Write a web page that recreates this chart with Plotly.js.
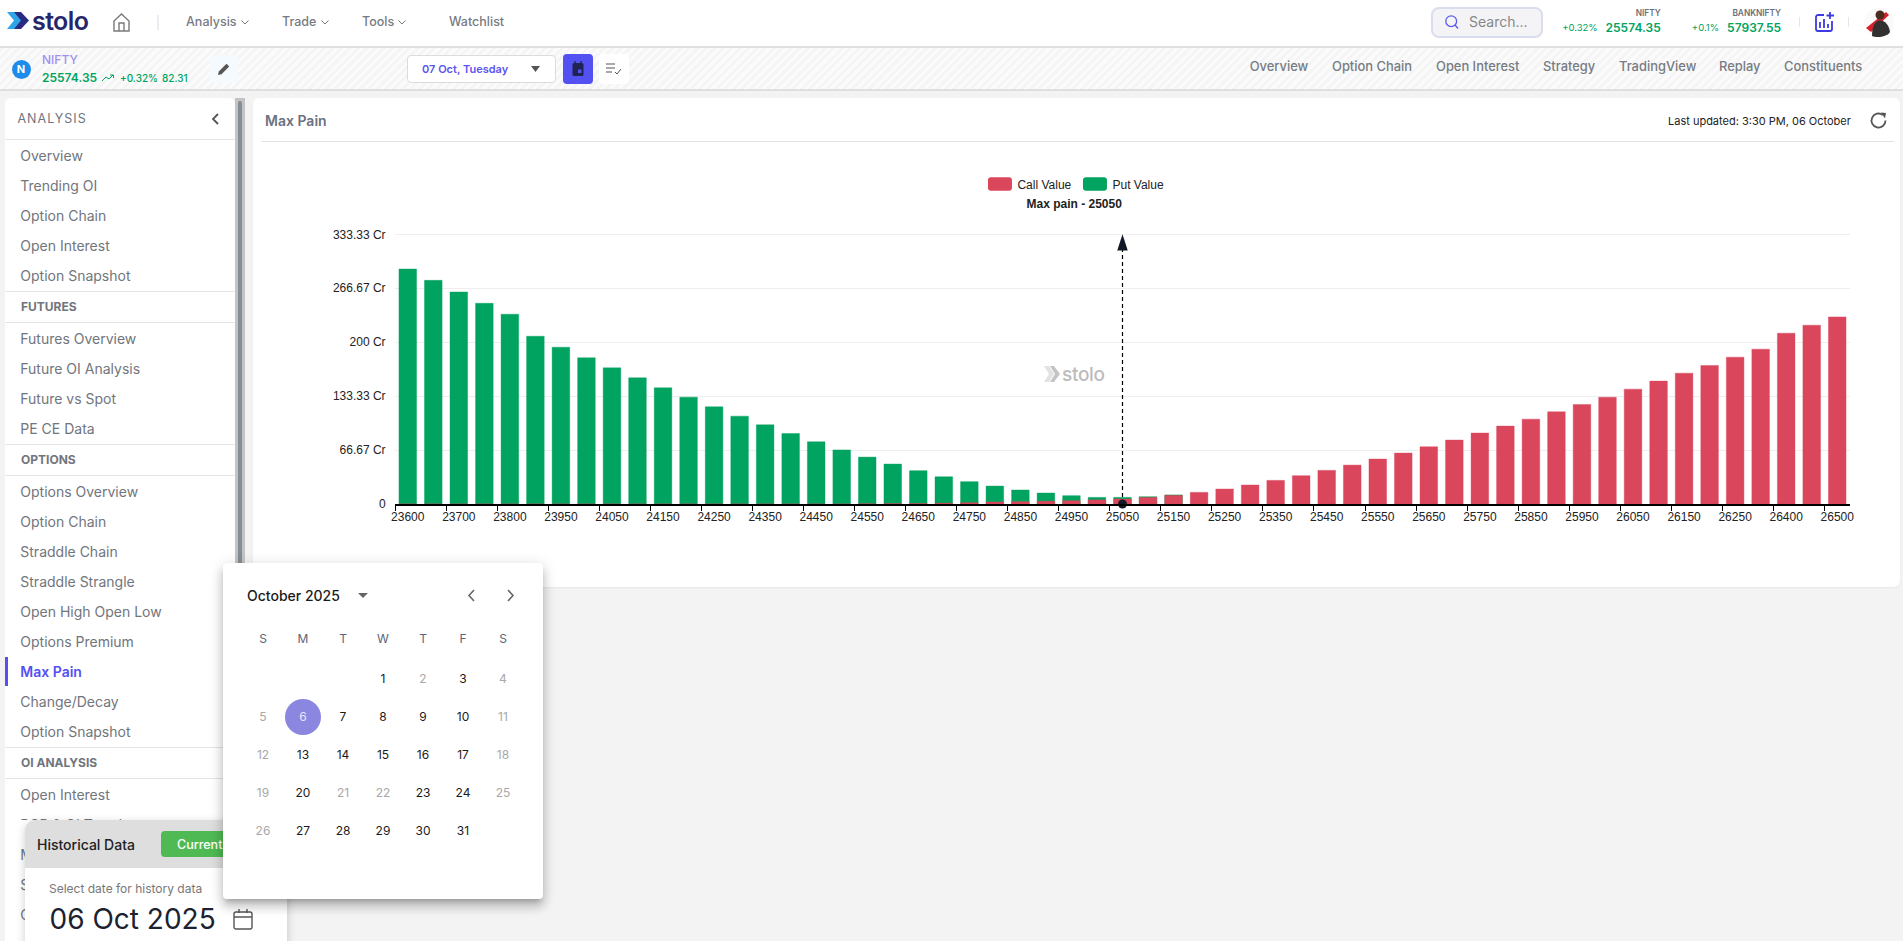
<!DOCTYPE html>
<html><head><meta charset="utf-8"><title>Max Pain</title>
<script src="https://cdn.plot.ly/plotly-3.0.1.min.js"></script>
<style>
html,body{margin:0;padding:0;width:1903px;height:941px;overflow:hidden;background:#f3f3f3;font-family:Inter,"Noto Sans",sans-serif}
.b{position:absolute;box-sizing:border-box}
.t{position:absolute;white-space:nowrap;transform:translateY(-50%);line-height:1}
.r{transform:translate(-100%,-50%)}.c{transform:translate(-50%,-50%)}
svg{position:absolute;overflow:visible}
#plot{position:absolute;left:260px;top:145px;width:1620px;height:420px}
</style></head><body><div id="ui"></div><div id="plot"></div><div id="over"></div>
<script>
// ---- chart data ----
const strikes=[23600,23650,23700,23750,23800,23900,23950,24000,24050,24100,24150,24200,24250,24300,24350,24400,24450,24500,24550,24600,24650,24700,24750,24800,24850,24900,24950,25000,25050,25100,25150,25200,25250,25300,25350,25400,25450,25500,25550,25600,25650,25700,25750,25800,25850,25900,25950,26000,26050,26100,26150,26200,26250,26300,26400,26450,26500];
const putValue=[290.5,276.5,262.1,248.1,234.6,207.4,193.8,180.7,168.3,156,143.6,132.1,120.2,108.6,97.9,87.2,77,66.9,58,49.4,41.2,33.7,27.6,22.2,17.3,13.6,10.3,8.2,8.2,9,11.2,0,0,0,0,0,0,0,0,0,0,0,0,0,0,0,0,0,0,0,0,0,0,0,0,0,0];
const callValue=[0,0,0,0,0,0,0,0,0,0,0,0,0,0,0,0,0,0,0.3,0.4,0.6,1,1.6,2.5,2.9,3.5,4.1,5.1,6.2,8.2,10.7,14.4,18.5,23.5,29.2,35,41.6,48.1,55.6,63,70.8,79,87.7,96.3,104.9,114,123,132,142,151.9,161.7,171.2,181.5,191.4,211.1,221,231.3];
const yTickVals=[0,66.67,133.33,200,266.67,333.33];
const yTickText=['0','66.67 Cr','133.33 Cr','200 Cr','266.67 Cr','333.33 Cr'];
const maxPainStrike=25050;
const maxPainArrow=[0,333.33];
const CHART_FONT='"Liberation Sans",Arial,sans-serif';

Plotly.newPlot('plot',[
 {type:'bar',name:'Put Value',x:strikes.map(String),y:putValue,marker:{color:'#00A35F',line:{color:'rgba(0,163,95,0.4)',width:1}},hoverinfo:'x+y'},
 {type:'bar',name:'Call Value',x:strikes.map(String),y:callValue,marker:{color:'#DA475C',line:{color:'rgba(218,71,92,0.4)',width:1}},hoverinfo:'x+y'},
 {type:'scatter',mode:'lines+markers',showlegend:false,cliponaxis:false,hoverinfo:'skip',x:[String(maxPainStrike),String(maxPainStrike)],y:maxPainArrow,
  line:{color:'#000',width:1.2,dash:'4px,3px'},marker:{color:'#111827',opacity:1,symbol:['circle','arrow'],size:[9,17],line:{width:0}}}
],{
 width:1620,height:420,margin:{l:134.5,r:30,t:87.95,b:60.7},
 paper_bgcolor:'rgba(0,0,0,0)',plot_bgcolor:'rgba(0,0,0,0)',
 font:{family:CHART_FONT,size:12,color:'#222'},
 barmode:'overlay',bargap:0.31,
 title:{text:'<b>Max pain - '+maxPainStrike+'</b>',font:{family:CHART_FONT,size:12,color:'#222'},xref:'paper',x:0.4668,xanchor:'center',yref:'container',y:0.8602,yanchor:'middle',pad:{t:0,b:0,l:0,r:0}},
 legend:{orientation:'h',traceorder:'reversed',xref:'paper',yref:'paper',x:0.4656,xanchor:'center',y:1.181,yanchor:'middle',entrywidth:50,entrywidthmode:'pixels',font:{family:CHART_FONT,size:12,color:'#222'},bgcolor:'rgba(0,0,0,0)'},
 xaxis:{type:'category',categoryorder:'array',categoryarray:strikes.map(String),tickmode:'linear',tick0:0,dtick:2,tickson:'boundaries',ticks:'outside',ticklen:5,tickwidth:1,tickcolor:'#000',ticklabelstandoff:1,showline:true,linecolor:'#000',linewidth:1.5,showgrid:false,zeroline:false,tickangle:0,tickfont:{size:12,color:'#222'},automargin:false,range:[-0.5,56.5]},
 yaxis:{range:[0,335],tickmode:'array',tickvals:yTickVals,ticktext:yTickText,ticks:'outside',ticklen:6,tickcolor:'rgba(0,0,0,0)',ticklabelshift:-1.5,showline:false,showgrid:true,gridcolor:'#eeeeee',gridwidth:1,zeroline:false,tickfont:{size:12,color:'#222'},automargin:false}
},{displayModeBar:false,staticPlot:false}).then(()=>{
 document.querySelectorAll('#plot .legend .legendpoints path').forEach(p=>{p.setAttribute('d','M-6.5,-6.8H11.5A3,3 0 0 1 14.5,-3.8V3.8A3,3 0 0 1 11.5,6.8H-6.5A3,3 0 0 1 -9.5,3.8V-3.8A3,3 0 0 1 -6.5,-6.8Z');p.style.strokeWidth='0'});
});

// ---- page chrome ----
const ui=document.getElementById('ui'),over=document.getElementById('over');
function box(x,y,w,h,s,el){const d=document.createElement('div');d.className='b';d.style.cssText=`left:${x}px;top:${y}px;width:${w}px;height:${h}px;${s||''}`;(el||ui).appendChild(d);return d}
function txt(x,y,t,s,cls,el){const d=document.createElement('div');d.className='t '+(cls||'');d.textContent=t;d.style.cssText=`left:${x}px;top:${y}px;${s||''}`;(el||ui).appendChild(d);return d}
function ico(x,y,w,h,inner,el){const n=document.createElement('div');n.innerHTML=`<svg style="left:${x}px;top:${y}px" width="${w}" height="${h}" viewBox="0 0 ${w} ${h}">${inner}</svg>`;(el||ui).appendChild(n.firstChild)}
const GREEN='#00A35F',GREY='#777b83';
// top bar
box(0,0,1903,48,'background:#fff;border-bottom:2px solid #e0e0e2');
box(0,48,1903,43,'background:repeating-linear-gradient(135deg,#f5f5f5 0 3px,#fbfbfb 3px 6px);border-bottom:2px solid #dfdfe1');
ico(7,12,24,17,'<path d="M0 0H9L16 8.5L9 17H0L7 8.5Z" fill="#2fa4e7"/><path d="M7 0H14L22 8.5L14 17H7L14 8.5Z" fill="#2b2a83"/>');
txt(32,21,'stolo','font-size:25px;font-weight:600;color:#25266b;letter-spacing:-0.6px');
ico(113,13,17,19,'<path d="M1 8L8.5 1L16 8V18H1Z M6 18V10H11V18" fill="none" stroke="#7a7a7a" stroke-width="1.4"/>');
box(157,15,2,15,'background:#e9edf2');
[[186,'Analysis',245],[282,'Trade',325],[362,'Tools',402]].forEach(a=>{txt(a[0],22,a[1],`font-size:12.5px;font-weight:500;color:${GREY}`);ico(a[2]-4,20,8,5,'<path d="M0.5 0.5L4 4L7.5 0.5" fill="none" stroke="#777" stroke-width="1"/>')});
txt(449,22,'Watchlist',`font-size:12.5px;font-weight:500;color:${GREY}`);
box(1431,7,112,31,'background:#f4f4f6;border:2px solid #d9dded;border-radius:8px');
ico(1445,15,14,15,'<circle cx="6.2" cy="6.2" r="5.4" fill="none" stroke="#5b5bf0" stroke-width="1.3"/><path d="M10 10L13 13.5" stroke="#5b5bf0" stroke-width="1.3"/>');
txt(1469,22,'Search...','font-size:14px;color:#888');
txt(1660.7,13,'NIFTY','font-size:8.3px;font-weight:600;color:#6d6f78','r');
txt(1597.7,28,'+0.32%',`font-size:9.5px;color:${GREEN}`,'r');
txt(1660.7,28,'25574.35',`font-size:12px;font-weight:600;color:${GREEN}`,'r');
txt(1781,13,'BANKNIFTY','font-size:8.3px;font-weight:600;color:#6d6f78','r');
txt(1719,28,'+0.1%',`font-size:9.5px;color:${GREEN}`,'r');
txt(1781,28,'57937.55',`font-size:12px;font-weight:600;color:${GREEN}`,'r');
box(1799,17,1,10,'background:#e4e6ea');box(1848,17,1,10,'background:#e4e6ea');
ico(1815,12,19,20,'<path d="M9 3H3A2 2 0 0 0 1 5V17A2 2 0 0 0 3 19H15A2 2 0 0 0 17 17V9" fill="none" stroke="#3c3be0" stroke-width="1.8"/><path d="M5 16V10M9 16V7M13 16V12" stroke="#3c3be0" stroke-width="1.8"/><path d="M15 0V7M11.5 3.5H19" stroke="#3c3be0" stroke-width="1.8"/>');
ico(1864,7,30,31,'<circle cx="15" cy="15.5" r="15" fill="#fafafa"/><path d="M2 21L22 5L25 8L7 25Z" fill="#d8202a"/><circle cx="16" cy="8" r="4.5" fill="#4a2d1e"/><path d="M8 29C8 19 11 13.5 16 13.5C21 13.5 25 18 26 25C23 30 13 31 8 29Z" fill="#33312f"/>');
// sub bar
box(11.5,59.5,19,19,'background:#1d8cea;border-radius:50%');
txt(21,69.3,'N','font-size:11px;font-weight:700;color:#fff','c');
txt(42,59.7,'NIFTY','font-size:12px;font-weight:500;color:#a28ff0');
txt(42,78,'25574.35',`font-size:12px;font-weight:600;color:${GREEN}`);
ico(102,74,12,8,'<path d="M0 7L4 3L7 5L11 1M8 1H11.5V4" fill="none" stroke="#00A35F" stroke-width="1"/>');
txt(120,77.5,'+0.32%',`font-size:10px;font-weight:500;color:${GREEN}`);
txt(162,77.5,'82.31',`font-size:10px;font-weight:500;color:${GREEN}`);
box(210,55,28,28,'background:#f4fafd;border-radius:4px');
ico(218,63,12,12,'<path d="M0 12L0.8 8.5L8.5 0.8L11.2 3.5L3.5 11.2Z" fill="#555"/>');
box(407,55,149,28,'background:#fff;border:1px solid #dcdce0;border-radius:4px');
txt(422,69,'07 Oct, Tuesday','font-size:11px;font-weight:600;color:#5b55f0');
ico(531,66,10,6,'<path d="M0 0H9L4.5 6Z" fill="#555"/>');
box(563,54,30,30,'background:#5351f2;border-radius:4px');
ico(572,61,12,16,'<rect x="0.5" y="2" width="11" height="13" rx="1.5" fill="#1f2450"/><rect x="6" y="8.5" width="3.5" height="3.5" fill="#5351f2"/><path d="M3 0V3M9 0V3" stroke="#1f2450" stroke-width="1.3"/>');
box(599,54,30,30,'background:#fff;border-radius:4px');
ico(606,63,16,12,'<path d="M0 1H9M0 5H9M0 9H6" stroke="#555" stroke-width="1.2"/><path d="M9 9L11 11L15 6" stroke="#555" stroke-width="1" fill="none"/>');
[[1249.7,'Overview'],[1332,'Option Chain'],[1436,'Open Interest'],[1543,'Strategy'],[1619,'TradingView'],[1719,'Replay'],[1784,'Constituents']].forEach(a=>txt(a[0],66.7,a[1],`font-size:12.9px;font-weight:500;color:${GREY}`));
// sidebar
box(5,98,230,843,'background:#fff;border-radius:6px 6px 0 0');
box(235,98,10,843,'background:#c4c4c4');box(238,101,4,840,'background:#858d9a;border-radius:2px');
txt(17.5,118.7,'ANALYSIS','font-size:12.5px;color:#6f7580;letter-spacing:1px');
ico(211,113,8,12,'<path d="M7 1L2 6L7 11" fill="none" stroke="#555" stroke-width="1.8"/>');
const side=[['d',139.3],['i',155.7,'Overview'],['i',185.7,'Trending OI'],['i',215.7,'Option Chain'],['i',245.7,'Open Interest'],['i',275.7,'Option Snapshot'],['d',291.3],['h',306.7,'FUTURES'],['d',322.3],['i',338.7,'Futures Overview'],['i',368.7,'Future OI Analysis'],['i',398.7,'Future vs Spot'],['i',428.7,'PE CE Data'],['d',444.3],['h',459.7,'OPTIONS'],['d',475.3],['i',491.7,'Options Overview'],['i',521.7,'Option Chain'],['i',551.7,'Straddle Chain'],['i',581.7,'Straddle Strangle'],['i',611.7,'Open High Open Low'],['i',641.7,'Options Premium'],['m',671.7,'Max Pain'],['i',701.7,'Change/Decay'],['i',731.7,'Option Snapshot'],['d',747.3],['h',762.7,'OI ANALYSIS'],['d',778.3],['i',794.7,'Open Interest'],['i',854.7,'M'],['i',884.7,'S'],['i',914.7,'O']];
side.forEach(s=>{
 if(s[0]=='d')box(5,s[1],230,1,'background:#e3e3ea');
 if(s[0]=='i')txt(20.3,s[1],s[2],'font-size:14px;color:#71757d');
 if(s[0]=='h')txt(21,s[1],s[2],'font-size:12px;font-weight:700;color:#71757d');
 if(s[0]=='m'){txt(20.3,s[1],s[2],'font-size:14px;font-weight:600;color:#5451f0');box(5,656.7,3,29.5,'background:#5451f0')}
});
// partly covered item: only its top shows above the historical card
const pcr=box(5,812,220,8,'overflow:hidden');txt(15.3,12.7,'PCR & OI Trend','font-size:14px;color:#71757d',null,pcr);
// main card
box(253,98,1647,489,'background:#fff;border-radius:6px;box-shadow:0 1px 2px rgba(0,0,0,.05)');
txt(265,121,'Max Pain','font-size:14px;font-weight:600;color:#6b7280');
box(261,141,1633,1,'background:#e3e3e6');
txt(1668,121,'Last updated: 3:30 PM, 06 October','font-size:11px;color:#222');
ico(1870,112,17,17,'<path d="M15.5 8.5A7 7 0 1 1 12.8 3" fill="none" stroke="#555" stroke-width="1.8"/><path d="M11 0.5L16 1L15 6.5Z" fill="#555"/>');
// watermark
ico(1044,366,17,16,'<path d="M0 0H5L10 8L5 16H0L5 8Z" fill="#e2e2e2"/><path d="M6 0H10L16 8L10 16H6L11 8Z" fill="#c4c4c4"/>',over);
txt(1062,374,'stolo','font-size:19px;font-weight:500;color:#bcbcbc;letter-spacing:-0.3px',null,over);
// historical card
box(25,820,262,140,'background:#fff;border-radius:10px 10px 0 0;box-shadow:0 3px 10px rgba(0,0,0,.2)',over);
box(25,820,262,48,'background:#dedede;border-radius:10px 10px 0 0',over);
txt(37,845,'Historical Data','font-size:14px;font-weight:500;color:#222',null,over);
box(161,831,70,26,'background:#4fba54;border-radius:4px',over);
txt(177,845,'Current','font-size:12.5px;font-weight:500;color:#fff',null,over);
txt(49,888.7,'Select date for history data','font-size:12px;color:#777',null,over);
txt(49.5,919,'06 Oct 2025','font-size:28px;color:#1c2230',null,over);
ico(233,909,20,21,'<rect x="1" y="3" width="18" height="17" rx="2" fill="none" stroke="#555" stroke-width="1.4"/><path d="M1 8H19M6 0V4M14 0V4" stroke="#555" stroke-width="1.4"/>',over);
// calendar popup
box(223,563,320,336,'background:#fff;border-radius:4px;box-shadow:0 5px 5px -3px rgba(0,0,0,.2),0 8px 10px 1px rgba(0,0,0,.14),0 3px 14px 2px rgba(0,0,0,.12)',over);
txt(247,595.7,'October 2025','font-size:14px;font-weight:500;color:#1a1a1a',null,over);
ico(358,593,10,5,'<path d="M0 0H10L5 5Z" fill="#666"/>',over);
ico(467,589,8,13,'<path d="M7 1L2 6.5L7 12" fill="none" stroke="#666" stroke-width="1.6"/>',over);
ico(507,589,8,13,'<path d="M1 1L6 6.5L1 12" fill="none" stroke="#666" stroke-width="1.6"/>',over);
const colX=[263,303,343,383,423,463,503],rowY=[678.8,716.8,755,793.2,831.2];
['S','M','T','W','T','F','S'].forEach((d,i)=>txt(colX[i],638.8,d,'font-size:12px;color:#5b6478','c',over));
const weeks=[[0,0,0,1,2,3,4],[5,6,7,8,9,10,11],[12,13,14,15,16,17,18],[19,20,21,22,23,24,25],[26,27,28,29,30,31,0]];
const muted=[2,4,5,11,12,18,19,21,22,25,26];
box(285,698.5,36,36,'background:#8b86e0;border-radius:50%',over);
weeks.forEach((w,r)=>w.forEach((d,c)=>{if(d)txt(colX[c],rowY[r],String(d),'font-size:12px;color:'+(d==6?'#e8e8fb':muted.includes(d)?'#a8a8a8':'#1a1a1a'),'c',over)}));
</script></body></html>
